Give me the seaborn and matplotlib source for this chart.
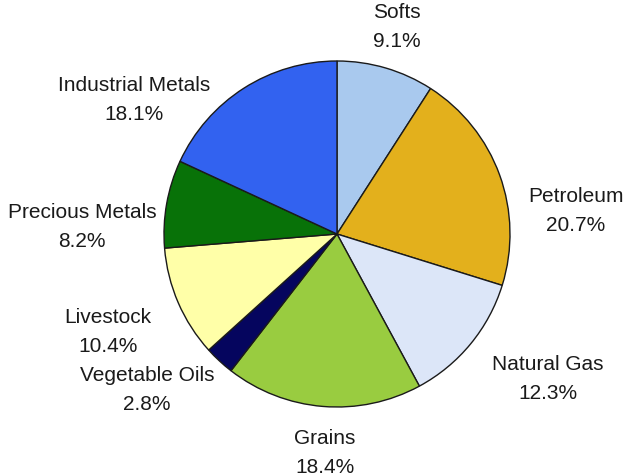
import matplotlib
matplotlib.use("Agg")
import matplotlib.pyplot as plt
import seaborn as sns

categories = ["Softs", "Petroleum", "Natural Gas", "Grains", "Vegetable Oils",
              "Livestock", "Precious Metals", "Industrial Metals"]
shares = [9.1, 20.7, 12.3, 18.4, 2.8, 10.4, 8.2, 18.1]

colors = ["#a9c9ee", "#e3b01c", "#dce6f8", "#99cc40", "#05055e",
          "#ffffa8", "#087208", "#3262f0"]
# label anchor positions in pixel space (x from left, y from top)
label_pos = [(397, 27), (576, 211), (548, 379), (325, 453), (147, 390),
             (108, 332), (82, 227), (134, 100)]

sns.set_theme(style="white")
plt.rcParams['font.family'] = ['Liberation Sans', 'DejaVu Sans']

W, H = 623, 477
fig = plt.figure(figsize=(W / 100, H / 100), dpi=100)
ax = fig.add_axes([0, 0, 1, 1])
ax.pie(shares, colors=colors, startangle=90, counterclock=False,
       center=(337, H - 235), radius=173,
       wedgeprops=dict(edgecolor="#1a1a1a", linewidth=1.0))
ax.set_xlim(0, W)
ax.set_ylim(0, H)
ax.set_aspect("auto")
ax.axis("off")

for name, val, (x, y) in zip(categories, shares, label_pos):
    ax.text(x, H - y, f"{name}\n{val:.1f}%", ha="center", va="center",
            fontsize=15, color="#1a1a1a", linespacing=1.65)

fig.savefig("out.png", dpi=100, facecolor="white")
